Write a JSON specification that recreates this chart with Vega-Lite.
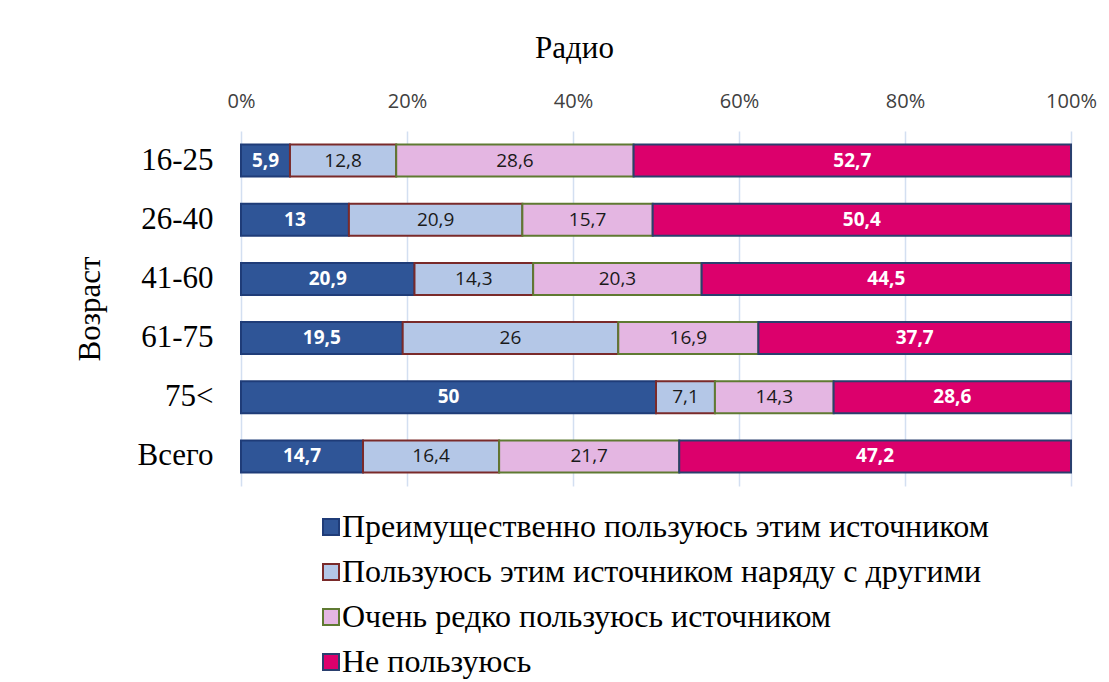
{
  "$schema": "https://vega.github.io/schema/vega-lite/v6.json",
  "width": 830,
  "height": 355,
  "autosize": {"type": "none"},
  "padding": {"left": 241, "top": 131, "right": 38, "bottom": 196},
  "background": "white",
  "config": {
    "locale": {"number": {"decimal": ",", "thousands": " ", "grouping": [3], "currency": ["", " ₽"]}},
    "view": {"stroke": null}
  },
  "data": {
    "values": [
      {"age": "16-25", "cat": "Преимущественно пользуюсь этим источником", "k": 1, "value": 5.9},
      {"age": "16-25", "cat": "Пользуюсь этим источником наряду с другими", "k": 2, "value": 12.8},
      {"age": "16-25", "cat": "Очень редко пользуюсь источником", "k": 3, "value": 28.6},
      {"age": "16-25", "cat": "Не пользуюсь", "k": 4, "value": 52.7},
      {"age": "26-40", "cat": "Преимущественно пользуюсь этим источником", "k": 1, "value": 13},
      {"age": "26-40", "cat": "Пользуюсь этим источником наряду с другими", "k": 2, "value": 20.9},
      {"age": "26-40", "cat": "Очень редко пользуюсь источником", "k": 3, "value": 15.7},
      {"age": "26-40", "cat": "Не пользуюсь", "k": 4, "value": 50.4},
      {"age": "41-60", "cat": "Преимущественно пользуюсь этим источником", "k": 1, "value": 20.9},
      {"age": "41-60", "cat": "Пользуюсь этим источником наряду с другими", "k": 2, "value": 14.3},
      {"age": "41-60", "cat": "Очень редко пользуюсь источником", "k": 3, "value": 20.3},
      {"age": "41-60", "cat": "Не пользуюсь", "k": 4, "value": 44.5},
      {"age": "61-75", "cat": "Преимущественно пользуюсь этим источником", "k": 1, "value": 19.5},
      {"age": "61-75", "cat": "Пользуюсь этим источником наряду с другими", "k": 2, "value": 26},
      {"age": "61-75", "cat": "Очень редко пользуюсь источником", "k": 3, "value": 16.9},
      {"age": "61-75", "cat": "Не пользуюсь", "k": 4, "value": 37.7},
      {"age": "75<", "cat": "Преимущественно пользуюсь этим источником", "k": 1, "value": 50},
      {"age": "75<", "cat": "Пользуюсь этим источником наряду с другими", "k": 2, "value": 7.1},
      {"age": "75<", "cat": "Очень редко пользуюсь источником", "k": 3, "value": 14.3},
      {"age": "75<", "cat": "Не пользуюсь", "k": 4, "value": 28.6},
      {"age": "Всего", "cat": "Преимущественно пользуюсь этим источником", "k": 1, "value": 14.7},
      {"age": "Всего", "cat": "Пользуюсь этим источником наряду с другими", "k": 2, "value": 16.4},
      {"age": "Всего", "cat": "Очень редко пользуюсь источником", "k": 3, "value": 21.7},
      {"age": "Всего", "cat": "Не пользуюсь", "k": 4, "value": 47.2}
    ]
  },
  "encoding": {
    "y": {
      "field": "age",
      "type": "nominal",
      "sort": ["16-25", "26-40", "41-60", "61-75", "75<", "Всего"],
      "scale": {"paddingInner": 0.46, "paddingOuter": 0.23},
      "axis": {
        "title": "Возраст",
        "titleFont": "Liberation Serif",
        "titleFontSize": 31,
        "titleFontWeight": "normal",
        "titleColor": "#000000",
        "titleX": -151,
        "titleBaseline": "middle",
        "labelFont": "Liberation Serif",
        "labelFontSize": 31,
        "labelColor": "#000000",
        "labelPadding": 28,
        "ticks": false,
        "domain": false
      }
    }
  },
  "layer": [
    {
      "mark": {"type": "bar", "strokeWidth": 2},
      "encoding": {
        "x": {
          "field": "value",
          "type": "quantitative",
          "stack": "normalize",
          "scale": {"domain": [0, 1]},
          "axis": {
            "orient": "top",
            "title": "Радио",
            "titleFont": "Liberation Serif",
            "titleFontSize": 31,
            "titleFontWeight": "normal",
            "titleColor": "#000000",
            "titleX": 333,
            "titleY": -83,
            "titleBaseline": "middle",
            "titleAlign": "center",
            "values": [0, 0.2, 0.4, 0.6, 0.8, 1],
            "format": ".0%",
            "labelFont": "Open Sans",
            "labelFontSize": 20,
            "labelColor": "#404040",
            "labelPadding": 20,
            "labelFlush": false,
            "ticks": false,
            "domain": false,
            "grid": true,
            "gridColor": "#D3DFF1",
            "gridWidth": 1.5
          }
        },
        "order": {"field": "k", "type": "quantitative"},
        "color": {
          "field": "cat",
          "type": "nominal",
          "scale": {
            "domain": ["Преимущественно пользуюсь этим источником", "Пользуюсь этим источником наряду с другими", "Очень редко пользуюсь источником", "Не пользуюсь"],
            "range": ["#2F5597", "#B4C7E7", "#E4B6E2", "#DC006C"]
          },
          "legend": {
            "title": null,
            "orient": "none",
            "legendX": 74,
            "legendY": 380,
            "direction": "vertical",
            "symbolType": "square",
            "symbolSize": 256,
            "symbolStrokeWidth": 2,
            "labelFont": "Liberation Serif",
            "labelFontSize": 32,
            "labelColor": "#000000",
            "labelOffset": -5,
            "labelLimit": 900,
            "rowPadding": 13
          }
        },
        "stroke": {
          "field": "cat",
          "type": "nominal",
          "scale": {
            "domain": ["Преимущественно пользуюсь этим источником", "Пользуюсь этим источником наряду с другими", "Очень редко пользуюсь источником", "Не пользуюсь"],
            "range": ["#1F3C78", "#7A2A2A", "#5F7A32", "#2A3F6E"]
          },
          "legend": {
            "title": null,
            "orient": "none",
            "legendX": 74,
            "legendY": 380,
            "direction": "vertical",
            "symbolType": "square",
            "symbolSize": 256,
            "symbolStrokeWidth": 2,
            "labelFont": "Liberation Serif",
            "labelFontSize": 32,
            "labelColor": "#000000",
            "labelOffset": -5,
            "labelLimit": 900,
            "rowPadding": 13
          }
        }
      }
    },
    {
      "mark": {"type": "text", "font": "Open Sans", "fontSize": 19, "fontWeight": "bold", "color": "white", "baseline": "middle"},
      "encoding": {
        "x": {"field": "value", "type": "quantitative", "stack": "normalize", "bandPosition": 0.5},
        "order": {"field": "k", "type": "quantitative"},
        "text": {"field": "value", "type": "quantitative", "format": "~g"},
        "opacity": {"condition": {"test": "datum.k == 1 || datum.k == 4", "value": 1}, "value": 0}
      }
    },
    {
      "mark": {"type": "text", "font": "Open Sans", "fontSize": 19, "fontWeight": "normal", "color": "#1a1a1a", "baseline": "middle"},
      "encoding": {
        "x": {"field": "value", "type": "quantitative", "stack": "normalize", "bandPosition": 0.5},
        "order": {"field": "k", "type": "quantitative"},
        "text": {"field": "value", "type": "quantitative", "format": "~g"},
        "opacity": {"condition": {"test": "datum.k == 2 || datum.k == 3", "value": 1}, "value": 0}
      }
    }
  ]
}
